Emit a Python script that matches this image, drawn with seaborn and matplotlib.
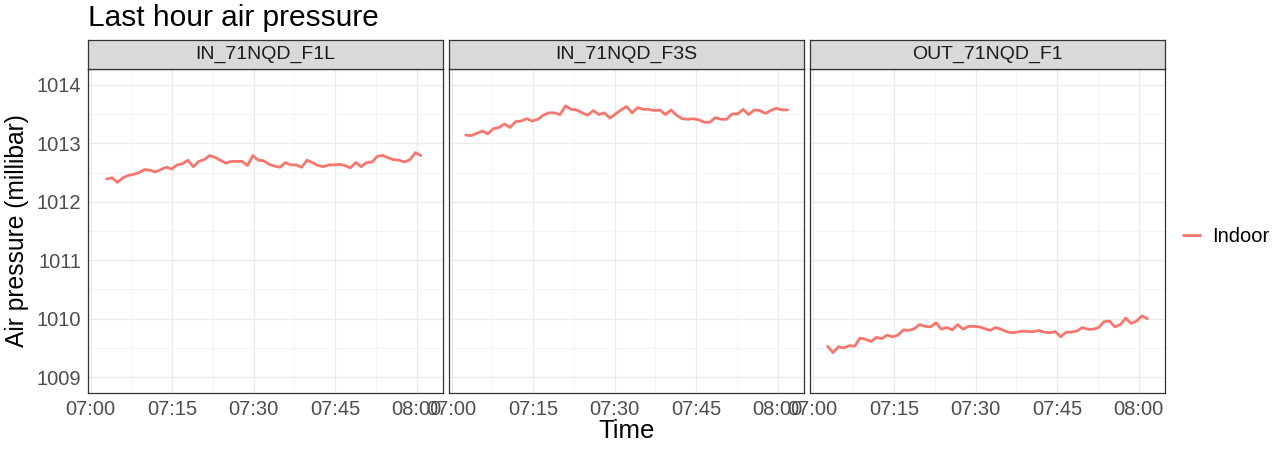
import matplotlib
matplotlib.use("Agg")
import matplotlib.pyplot as plt
import matplotlib.dates as mdates
import pandas as pd
import seaborn as sns
from matplotlib.lines import Line2D
from matplotlib.ticker import MultipleLocator

sns.set_style("white")
plt.rcParams['font.family'] = ['Liberation Sans', 'DejaVu Sans']

# Sensors (facets) and their readings, one per minute
sensors = ['IN_71NQD_F1L', 'IN_71NQD_F3S', 'OUT_71NQD_F1']
location = 'Indoor'

f1l = [1012.39, 1012.41, 1012.33, 1012.41, 1012.45, 1012.47, 1012.50, 1012.55, 1012.54, 1012.51,
       1012.55, 1012.59, 1012.56, 1012.63, 1012.65, 1012.71, 1012.60, 1012.69, 1012.72, 1012.79,
       1012.76, 1012.71, 1012.66, 1012.69, 1012.69, 1012.69, 1012.62, 1012.79, 1012.71, 1012.70,
       1012.64, 1012.61, 1012.59, 1012.67, 1012.63, 1012.63, 1012.59, 1012.71, 1012.67, 1012.62,
       1012.60, 1012.63, 1012.63, 1012.64, 1012.62, 1012.58, 1012.67, 1012.60, 1012.67, 1012.68,
       1012.78, 1012.79, 1012.75, 1012.72, 1012.71, 1012.68, 1012.72, 1012.84, 1012.79]

f3s = [1013.14, 1013.13, 1013.17, 1013.21, 1013.16, 1013.25, 1013.27, 1013.33, 1013.27, 1013.37,
       1013.38, 1013.42, 1013.38, 1013.41, 1013.48, 1013.52, 1013.52, 1013.49, 1013.64, 1013.58,
       1013.57, 1013.52, 1013.48, 1013.56, 1013.49, 1013.52, 1013.43, 1013.50, 1013.57, 1013.63,
       1013.52, 1013.61, 1013.58, 1013.58, 1013.56, 1013.57, 1013.49, 1013.57, 1013.48, 1013.42,
       1013.41, 1013.42, 1013.40, 1013.36, 1013.36, 1013.44, 1013.41, 1013.41, 1013.50, 1013.50,
       1013.58, 1013.49, 1013.57, 1013.56, 1013.51, 1013.56, 1013.60, 1013.57, 1013.57]

f1 = [1009.53, 1009.42, 1009.52, 1009.50, 1009.54, 1009.53, 1009.67, 1009.65, 1009.61, 1009.68,
      1009.66, 1009.72, 1009.69, 1009.72, 1009.81, 1009.80, 1009.83, 1009.90, 1009.87, 1009.86,
      1009.93, 1009.82, 1009.85, 1009.81, 1009.90, 1009.82, 1009.87, 1009.87, 1009.86, 1009.83,
      1009.80, 1009.85, 1009.82, 1009.78, 1009.76, 1009.77, 1009.79, 1009.78, 1009.78, 1009.80,
      1009.77, 1009.76, 1009.78, 1009.69, 1009.77, 1009.77, 1009.79, 1009.85, 1009.82, 1009.82,
      1009.85, 1009.95, 1009.96, 1009.86, 1009.90, 1010.01, 1009.92, 1009.96, 1010.05, 1010.00]

values = {'IN_71NQD_F1L': f1l, 'IN_71NQD_F3S': f3s, 'OUT_71NQD_F1': f1}
# first and last reading time of each sensor
start_times = {'IN_71NQD_F1L': '2021-01-01 07:02:56', 'IN_71NQD_F3S': '2021-01-01 07:02:34',
               'OUT_71NQD_F1': '2021-01-01 07:02:44'}
end_times = {'IN_71NQD_F1L': '2021-01-01 08:00:45', 'IN_71NQD_F3S': '2021-01-01 08:01:48',
             'OUT_71NQD_F1': '2021-01-01 08:01:36'}

frames = []
for s in sensors:
    t = pd.date_range(start_times[s], end_times[s], periods=len(values[s]))
    frames.append(pd.DataFrame({'time': t, 'pressure': values[s], 'sensor': s, 'location': location}))
df = pd.concat(frames, ignore_index=True)

W, H = 1280, 450
fig = plt.figure(figsize=(12.8, 4.5), dpi=100)

lefts = [88, 449, 810]
pw = 355
top, bottom = 69, 393
strip_top = 40
line_col = '#F8766D'

for i, s in enumerate(sensors):
    ax = fig.add_axes([lefts[i] / W, 1 - bottom / H, pw / W, (bottom - top) / H])
    sns.lineplot(data=df[df.sensor == s], x='time', y='pressure', hue='location',
                 palette={location: line_col}, linewidth=2.0, ax=ax, legend=False)
    ax.set_xlim(pd.Timestamp('2021-01-01 06:59:30'), pd.Timestamp('2021-01-01 08:04:50'))
    ax.set_ylim(1008.73, 1014.27)
    ax.xaxis.set_major_locator(mdates.MinuteLocator(byminute=[0, 15, 30, 45]))
    ax.xaxis.set_major_formatter(mdates.DateFormatter('%H:%M'))
    ax.xaxis.set_minor_locator(MultipleLocator(7.5 / 1440))
    ax.yaxis.set_major_locator(MultipleLocator(1))
    ax.yaxis.set_minor_locator(MultipleLocator(0.5))
    ax.grid(which='major', color='#EBEBEB', linewidth=1.0)
    ax.grid(which='minor', color='#F3F3F3', linewidth=0.6)
    ax.set_axisbelow(True)
    ax.tick_params(which='major', length=3, width=0.8, color='#333333',
                   labelcolor='#4D4D4D', labelsize=14.5, pad=2)
    ax.tick_params(which='minor', length=0)
    for sp in ax.spines.values():
        sp.set_color('#333333')
        sp.set_linewidth(0.9)
    ax.set_xlabel('')
    ax.set_ylabel('')
    if i > 0:
        ax.tick_params(axis='y', left=False, labelleft=False)

    # facet strip
    st = fig.add_axes([lefts[i] / W, 1 - top / H, pw / W, (top - strip_top) / H])
    st.set_facecolor('#D9D9D9')
    st.set_xticks([])
    st.set_yticks([])
    for sp in st.spines.values():
        sp.set_color('#333333')
        sp.set_linewidth(0.9)
    st.text(0.5, 0.5, s, ha='center', va='center', fontsize=14, color='#1A1A1A',
            transform=st.transAxes)

fig.text(88 / W, 1 - 18 / H, 'Last hour air pressure', fontsize=21.5, ha='left', va='center',
         color='black')
fig.text(17 / W, 1 - 231 / H, 'Air pressure (millibar)', fontsize=17.7, rotation=90,
         ha='center', va='center', color='black')
fig.text(627 / W, 1 - 431 / H, 'Time', fontsize=18.5, ha='center', va='center', color='black')

handle = Line2D([], [], color=line_col, linewidth=2.0)
fig.legend(handles=[handle], labels=[location], loc='center left',
           bbox_to_anchor=(1183 / W, 1 - 237 / H), frameon=False, fontsize=14.5,
           handlelength=0.85, handletextpad=0.6, borderpad=0, borderaxespad=0,
           labelcolor='black')

fig.savefig('out.png', dpi=100)
